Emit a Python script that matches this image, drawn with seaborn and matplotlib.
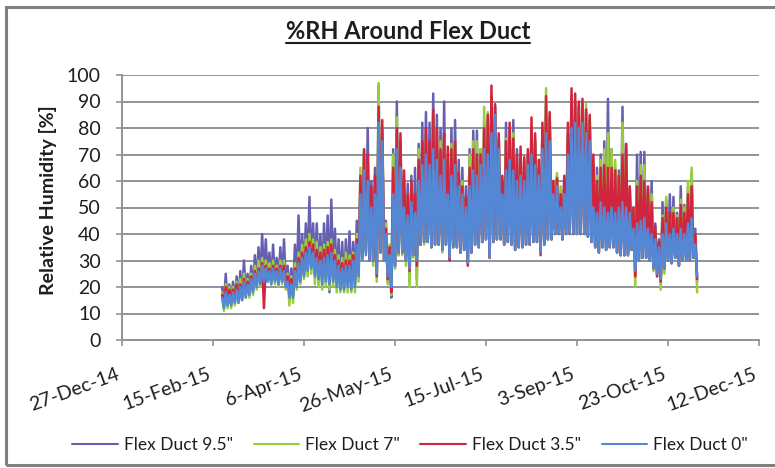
import numpy as np
import pandas as pd
import matplotlib.pyplot as plt
from matplotlib.lines import Line2D
from matplotlib.patches import Rectangle
import seaborn as sns

sns.set_style("white")
plt.rcParams['font.family'] = ['Lato', 'DejaVu Sans']

# ==========================================
# DATA
# readings every 2 days from 20-Feb-15: peak (hi) then trough (lo) next day
# ==========================================
first_day = "2015-02-20"
sensors = ['Flex Duct 9.5"', 'Flex Duct 7"', 'Flex Duct 3.5"', 'Flex Duct 0"']
colors = ["#6660b2", "#9acc3c", "#d0253e", "#5487d4"]

duct95_hi = [20, 25, 21, 22, 24, 26, 30, 25, 28, 32,
             35, 40, 38, 33, 36, 31, 35, 38, 28, 27,
             36, 47, 40, 44, 54, 44, 44, 40, 44, 47,
             53, 42, 38, 37, 38, 41, 37, 45, 60, 70,
             80, 60, 65, 96, 78, 45, 35, 72, 90, 75,
             58, 59, 62, 65, 74, 82, 86, 82, 93, 85,
             80, 90, 68, 80, 83, 68, 65, 58, 72, 79,
             79, 72, 82, 84, 92, 88, 76, 60, 82, 80,
             83, 72, 70, 68, 70, 80, 75, 65, 80, 88,
             84, 60, 62, 56, 60, 78, 92, 90, 88, 89,
             86, 83, 66, 65, 70, 75, 91, 72, 65, 64,
             88, 74, 57, 50, 70, 71, 71, 57, 60, 44,
             38, 52, 53, 55, 54, 48, 58, 51, 58, 63, 42]
duct95_lo = [13, 14, 14, 15, 15, 16, 18, 18, 19, 21,
             23, 24, 24, 22, 23, 22, 23, 22, 17, 17,
             21, 23, 25, 27, 28, 26, 25, 24, 24, 18,
             24, 22, 21, 20, 21, 20, 21, 25, 31, 33,
             31, 30, 24, 34, 30, 22, 16, 27, 32, 33,
             30, 22, 32, 23, 36, 37, 37, 35, 36, 36,
             34, 36, 30, 35, 35, 33, 34, 29, 33, 36,
             35, 37, 38, 31, 37, 38, 38, 36, 37, 36,
             34, 35, 35, 36, 36, 37, 37, 33, 36, 38,
             38, 40, 40, 38, 40, 40, 40, 40, 40, 40,
             39, 37, 35, 33, 35, 34, 35, 35, 33, 32,
             32, 32, 34, 24, 30, 31, 31, 30, 27, 25,
             23, 27, 30, 29, 31, 28, 30, 30, 30, 31, 22]

duct7_hi = [18, 21, 20, 20, 22, 23, 25, 23, 25, 28,
            30, 31, 30, 29, 30, 28, 30, 30, 25, 24,
            29, 33, 36, 38, 40, 38, 37, 35, 36, 37,
            38, 34, 32, 31, 33, 32, 33, 40, 65, 72,
            66, 55, 60, 97, 80, 44, 36, 70, 84, 72,
            60, 55, 58, 52, 72, 70, 76, 70, 85, 78,
            75, 76, 70, 74, 75, 62, 60, 52, 70, 75,
            75, 72, 88, 86, 90, 88, 76, 58, 76, 78,
            78, 68, 70, 66, 70, 80, 75, 65, 80, 95,
            85, 60, 63, 58, 60, 78, 92, 90, 88, 90,
            89, 84, 65, 62, 68, 72, 78, 72, 68, 62,
            82, 70, 57, 50, 60, 66, 66, 56, 55, 42,
            36, 47, 54, 47, 50, 47, 53, 50, 60, 65, 40]
duct7_lo = [11, 12, 12, 13, 14, 15, 16, 16, 17, 19,
            20, 21, 22, 21, 21, 20, 21, 19, 13, 14,
            19, 21, 23, 24, 25, 21, 20, 19, 20, 19,
            20, 18, 18, 18, 18, 18, 18, 22, 30, 33,
            31, 28, 22, 33, 30, 21, 17, 27, 32, 32,
            28, 20, 31, 20, 36, 36, 37, 35, 36, 36,
            33, 36, 31, 35, 35, 33, 34, 29, 33, 36,
            35, 37, 38, 31, 37, 38, 38, 36, 37, 36,
            34, 35, 35, 36, 36, 37, 37, 33, 36, 38,
            38, 40, 40, 38, 40, 40, 40, 40, 40, 40,
            39, 37, 35, 33, 35, 34, 35, 35, 33, 32,
            32, 32, 34, 20, 30, 31, 31, 30, 26, 24,
            19, 25, 30, 29, 31, 28, 30, 30, 30, 31, 18]

duct35_hi = [17, 20, 19, 19, 21, 21, 23, 22, 24, 26,
             27, 29, 28, 27, 28, 27, 28, 28, 24, 23,
             27, 31, 33, 35, 37, 36, 34, 33, 34, 35,
             36, 32, 30, 29, 30, 30, 32, 38, 62, 72,
             70, 58, 62, 88, 83, 42, 35, 65, 80, 78,
             64, 55, 60, 55, 68, 75, 80, 75, 87, 80,
             72, 78, 73, 72, 75, 63, 58, 54, 65, 72,
             70, 70, 80, 85, 96, 89, 78, 62, 75, 82,
             76, 70, 73, 69, 72, 84, 78, 68, 82, 92,
             86, 60, 61, 55, 62, 82, 95, 93, 90, 91,
             87, 85, 70, 60, 65, 66, 65, 65, 64, 62,
             70, 74, 58, 50, 58, 62, 60, 58, 52, 43,
             37, 46, 50, 48, 48, 46, 51, 48, 55, 58, 40]
duct35_lo = [14, 15, 15, 16, 16, 17, 18, 19, 20, 21,
             22, 12, 24, 23, 24, 23, 24, 22, 18, 18,
             22, 24, 26, 28, 29, 27, 26, 25, 26, 25,
             26, 24, 23, 22, 23, 22, 23, 26, 31, 34,
             30, 30, 24, 33, 30, 23, 18, 28, 33, 33,
             30, 26, 32, 28, 36, 37, 37, 35, 36, 36,
             34, 36, 30, 35, 35, 33, 34, 28, 33, 36,
             35, 37, 38, 31, 37, 38, 38, 36, 37, 36,
             34, 35, 35, 36, 36, 37, 37, 32, 36, 38,
             38, 40, 40, 38, 40, 40, 40, 40, 40, 40,
             39, 37, 35, 33, 35, 34, 35, 35, 33, 32,
             32, 32, 34, 24, 30, 31, 31, 30, 27, 24,
             22, 27, 30, 29, 31, 28, 30, 30, 30, 31, 23]

duct0_hi = [16, 18, 17, 18, 19, 20, 22, 21, 23, 25,
            26, 28, 27, 26, 27, 26, 27, 26, 22, 21,
            26, 29, 31, 33, 35, 33, 31, 30, 31, 32,
            33, 30, 28, 27, 28, 28, 30, 36, 55, 64,
            60, 50, 55, 82, 75, 40, 32, 55, 72, 65,
            50, 47, 52, 48, 60, 66, 70, 66, 72, 68,
            62, 68, 55, 62, 66, 58, 55, 50, 58, 64,
            62, 66, 72, 70, 78, 85, 72, 55, 64, 68,
            64, 60, 62, 60, 66, 70, 66, 62, 72, 78,
            75, 55, 58, 50, 55, 70, 80, 82, 80, 82,
            78, 75, 50, 48, 52, 50, 48, 50, 48, 50,
            52, 50, 48, 42, 44, 45, 46, 42, 40, 38,
            35, 40, 44, 40, 42, 40, 42, 40, 44, 46, 36]
duct0_lo = [12, 13, 13, 14, 14, 15, 16, 17, 18, 20,
            21, 22, 22, 21, 22, 21, 22, 20, 16, 16,
            20, 22, 24, 26, 27, 24, 23, 21, 22, 21,
            22, 20, 19, 19, 20, 19, 20, 24, 30, 32,
            30, 30, 25, 33, 30, 24, 20, 28, 33, 33,
            30, 27, 32, 30, 36, 37, 37, 35, 36, 36,
            34, 36, 31, 35, 35, 33, 34, 29, 33, 36,
            35, 37, 38, 31, 37, 38, 38, 36, 37, 36,
            34, 35, 35, 36, 36, 37, 37, 33, 36, 38,
            38, 40, 40, 38, 40, 40, 40, 40, 40, 40,
            39, 37, 35, 33, 35, 34, 35, 35, 33, 32,
            32, 32, 34, 26, 30, 31, 31, 30, 27, 25,
            23, 27, 30, 29, 31, 28, 30, 30, 30, 31, 24]

tick_dates = ["2014-12-27", "2015-02-15", "2015-04-06", "2015-05-26",
              "2015-07-15", "2015-09-03", "2015-10-23", "2015-12-12"]
y_ticks = list(range(0, 101, 10))

# ==========================================
# BUILD LONG TABLE
# ==========================================
highs = [duct95_hi, duct7_hi, duct35_hi, duct0_hi]
lows = [duct95_lo, duct7_lo, duct35_lo, duct0_lo]
start = pd.Timestamp(first_day)
rows = []
for name, hi, lo in zip(sensors, highs, lows):
    for i, (h, l) in enumerate(zip(hi, lo)):
        d = start + pd.Timedelta(days=2 * i)
        rows.append((d, h, name))
        rows.append((d + pd.Timedelta(days=1), l, name))
df = pd.DataFrame(rows, columns=["date", "rh", "sensor"])

# ==========================================
# PLOT
# ==========================================
W, H = 775, 468
grid_col = "#8d949c"
text_col = "#1e1e1e"

fig = plt.figure(figsize=(W / 100, H / 100), dpi=100)
ax = fig.add_axes([122 / W, 1 - 340 / H, 637 / W, 265 / H])

sns.lineplot(data=df, x="date", y="rh", hue="sensor", hue_order=sensors,
             palette=colors, estimator=None, sort=False, linewidth=1.8,
             legend=False, ax=ax)

ticks = pd.to_datetime(tick_dates)
ax.set_xlim(ticks[0], ticks[-1])
ax.set_ylim(0, 100)
ax.set_yticks(y_ticks)
ax.set_xticks(ticks)
ax.set_xticklabels([f"{d.day}-{d:%b-%y}" for d in ticks],
                   rotation=20, ha="right", va="top")

ax.yaxis.grid(True, color=grid_col, linewidth=1.4)
ax.xaxis.grid(False)
ax.set_axisbelow(True)
for side in ["top", "right"]:
    ax.spines[side].set_visible(False)
for side in ["left", "bottom"]:
    ax.spines[side].set_color(grid_col)
    ax.spines[side].set_linewidth(1.4)

ax.tick_params(axis="y", direction="out", length=4.3, width=1.2, color=grid_col,
               pad=11, labelsize=14, labelcolor=text_col, left=True)
ax.tick_params(axis="x", direction="out", length=4.3, width=1.2, color=grid_col,
               pad=14, labelsize=14, labelcolor=text_col, bottom=True)

ax.set_xlabel("")
ax.set_ylabel("Relative Humidity [%]", fontsize=14, fontweight="bold", color=text_col)
ax.yaxis.set_label_coords(-0.102, 0.528)

# underlined title
title = fig.text(408 / W, 1 - 39 / H, "%RH Around Flex Duct", ha="center",
                 va="baseline", fontsize=17, fontweight="bold", color=text_col)
fig.canvas.draw()
bb = title.get_window_extent()
fig.add_artist(Line2D([bb.x0 / W, bb.x1 / W], [1 - 42.5 / H, 1 - 42.5 / H],
                      transform=fig.transFigure, color=text_col, linewidth=1.5))

handles = [Line2D([], [], color=c, linewidth=1.5) for c in colors]
leg = fig.legend(handles, sensors, loc="center", bbox_to_anchor=(410 / W, 1 - 445 / H),
                 ncol=4, frameon=False, fontsize=12.5, handlelength=2.6,
                 handletextpad=0.35, columnspacing=1.2)
for txt in leg.get_texts():
    txt.set_color(text_col)

# outer chart border
fig.add_artist(Rectangle((6 / W, 1 - 465 / H), 800 / W, 458 / H, transform=fig.transFigure,
                         fill=False, edgecolor="#808080", linewidth=2.2))

fig.savefig("out.png", dpi=100)
plt.close(fig)
